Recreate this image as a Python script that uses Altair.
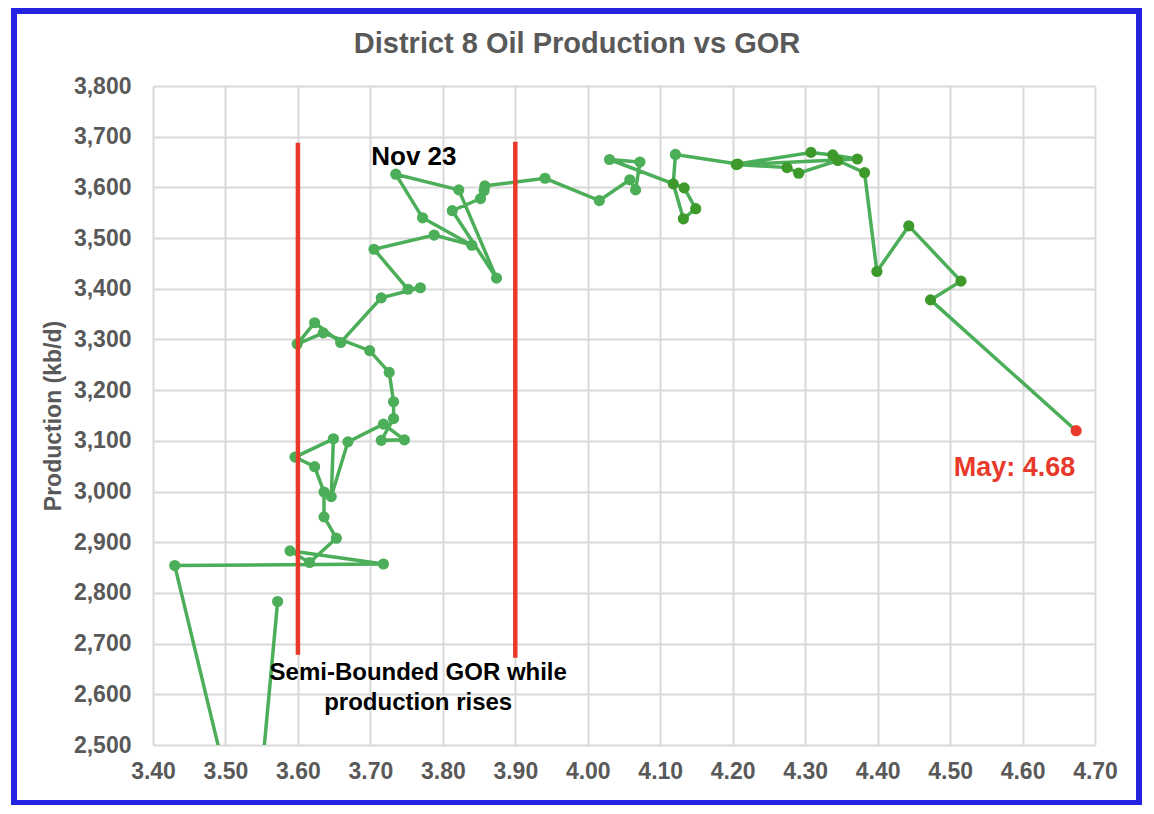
import altair as alt
import pandas as pd

# ---- data ----
gor = [3.572, 3.536, 3.430, 3.718, 3.589, 3.616, 3.653, 3.636, 3.636, 3.623,
       3.596, 3.649, 3.646, 3.669, 3.718, 3.747, 3.715, 3.732, 3.732, 3.726,
       3.699, 3.635, 3.599, 3.623, 3.659, 3.715, 3.769, 3.752, 3.705, 3.788,
       3.840, 3.772, 3.735, 3.822, 3.874, 3.813, 3.852, 3.857, 3.858, 3.941,
       4.016, 4.058, 4.066, 4.072, 4.030, 4.133, 4.149, 4.132, 4.118, 4.121,
       4.207, 4.308, 4.338, 4.372, 4.205, 4.275, 4.291, 4.345, 4.382, 4.399,
       4.443, 4.515, 4.473, 4.674]
prod = [2783, 2226, 2854, 2857, 2883, 2860, 2908, 2950, 2999, 3049,
        3068, 3104, 2990, 3098, 3133, 3102, 3101, 3144, 3177, 3235,
        3278, 3313, 3291, 3333, 3294, 3382, 3402, 3399, 3478, 3506,
        3486, 3540, 3626, 3595, 3421, 3554, 3578, 3594, 3603, 3618,
        3574, 3615, 3595, 3650, 3655, 3599, 3558, 3538, 3607, 3665,
        3646, 3669, 3664, 3656, 3645, 3639, 3628, 3653, 3629, 3434,
        3524, 3415, 3378, 3120]
group = (["early"] * 45 + ["recent"] * 4 + ["early"] + ["recent"] * 13 + ["last"])

rule_x = [3.60, 3.90]
rule_lo = [2678, 2672]
rule_hi = [3688, 3690]

x_ticks = [round(3.4 + 0.1 * i, 2) for i in range(14)]
y_ticks = list(range(2500, 3801, 100))

notes_text = ["Nov 23", "Semi-Bounded GOR while", "production rises"]
notes_x = [3.760, 3.766, 3.766]
notes_y = [3660, 2642, 2583]

may_text = ["May: 4.68"]
may_x = [4.589]
may_y = [3046]

title_text = "District 8 Oil Production vs GOR"

FONT = "Liberation Sans, Arial, Helvetica, sans-serif"
GREEN = "#4cae59"
DARK = "#3d9a2a"
RED = "#e8392a"
GREY = "#595959"

df = pd.DataFrame({"gor": gor, "prod": prod, "grp": group, "idx": list(range(len(gor)))})
pts = df[df["prod"] >= 2500]
rules = pd.DataFrame({"x": rule_x, "lo": rule_lo, "hi": rule_hi})
notes = pd.DataFrame({"t": notes_text, "x": notes_x, "y": notes_y, "s": [26, 24, 24]})
may = pd.DataFrame({"t": may_text, "x": may_x, "y": may_y})

xs = alt.Scale(domain=[3.4, 4.7], nice=False, zero=False)
ys = alt.Scale(domain=[2500, 3800], nice=False, zero=False)

X = alt.X("gor:Q", scale=xs, axis=alt.Axis(values=x_ticks, format=".2f", title=None,
                                             grid=True, gridColor="#d9d9d9", gridWidth=2,
                                             ticks=False, domain=False,
                                             labelFont=FONT, labelFontSize=23, labelFontWeight="bold",
                                             labelColor=GREY, labelPadding=15, labelFlush=False))
Y = alt.Y("prod:Q", scale=ys, axis=alt.Axis(values=y_ticks, format=",.0f", title="Production (kb/d)",
                                              grid=True, gridColor="#d9d9d9", gridWidth=2,
                                              ticks=False, domain=False,
                                              labelFont=FONT, labelFontSize=23, labelFontWeight="bold",
                                              labelColor=GREY, labelPadding=22, labelFlush=False,
                                              titleFont=FONT, titleFontSize=23, titleFontWeight="bold",
                                              titleColor=GREY, titleX=-100, titleY=329.5,
                                              titleAngle=270, titleAlign="center",
                                              titleBaseline="middle"))

line = alt.Chart(df).mark_line(color=GREEN, strokeWidth=3.5, clip=True).encode(
    x=X, y=Y, order="idx:Q")

points = alt.Chart(pts).mark_circle(size=125, opacity=1, clip=True).encode(
    x="gor:Q", y="prod:Q",
    color=alt.Color("grp:N", scale=alt.Scale(domain=["early", "recent", "last"],
                                             range=[GREEN, DARK, RED]), legend=None))

rule = alt.Chart(rules).mark_rule(color=RED, strokeWidth=4.5).encode(
    x="x:Q", y="lo:Q", y2="hi:Q")

note = alt.Chart(notes).mark_text(font=FONT, fontWeight="bold", color="black",
                                  align="center", baseline="middle").encode(
    x="x:Q", y="y:Q", text="t:N", size=alt.Size("s:Q", scale=None, legend=None))

may_lbl = alt.Chart(may).mark_text(font=FONT, fontWeight="bold", color=RED, fontSize=27,
                                   align="center", baseline="middle").encode(
    x="x:Q", y="y:Q", text="t:N")

title = alt.Chart(pd.DataFrame({"t": [title_text]})).mark_text(
    font=FONT, fontWeight="bold", color=GREY, fontSize=29, align="center",
    baseline="middle").encode(x=alt.value(424), y=alt.value(-42), text="t:N")

frame = alt.Chart(pd.DataFrame({"a": [0]})).mark_rect(
    fillOpacity=0, stroke="#2424e0", strokeWidth=6).encode(
    x=alt.value(-139), x2=alt.value(986), y=alt.value(-75), y2=alt.value(717))

chart = alt.layer(line, points, rule, note, may_lbl, title, frame).properties(
    width=942, height=659, autosize="none",
    padding={"left": 145, "top": 78, "right": 50, "bottom": 60},
).configure_view(stroke="#404040", strokeWidth=2.5).configure(background="white")

chart.save("out.html", embed_options={"renderer": "svg", "actions": False})
